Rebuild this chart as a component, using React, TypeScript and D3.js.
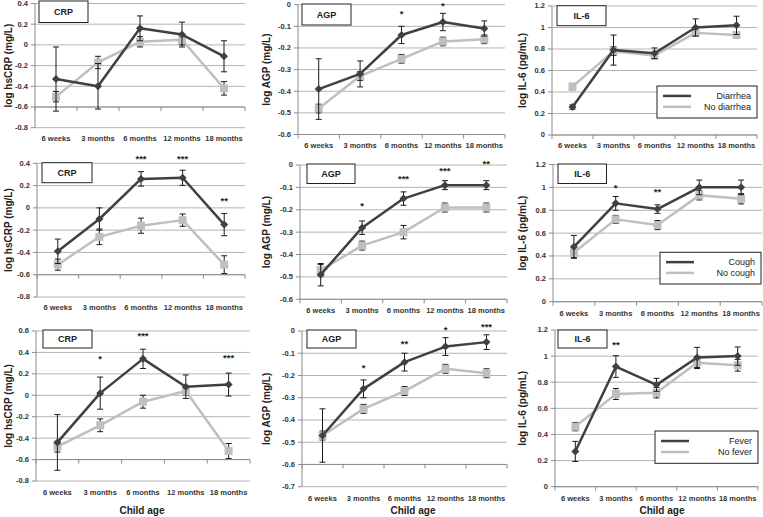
import React from "react";
import * as d3 from "d3";

const categories = ["6 weeks", "3 months", "6 months", "12 months", "18 months"];
const measureTitles = ["CRP", "AGP", "IL-6"];
const yAxisTitles = ["log hsCRP (mg/L)", "log AGP (mg/L)", "log IL-6 (pg/mL)"];
const conditionNames = ["Diarrhea", "Cough", "Fever"];
const noConditionNames = ["No diarrhea", "No cough", "No fever"];
const xAxisTitle = "Child age";

// y tick values
const crpTicksA = [-0.8, -0.6, -0.4, -0.2, 0, 0.2, 0.4];
const crpTicksB = [-0.8, -0.6, -0.4, -0.2, 0, 0.2, 0.4, 0.6];
const agpTicksA = [-0.6, -0.5, -0.4, -0.3, -0.2, -0.1, 0];
const agpTicksB = [-0.7, -0.6, -0.5, -0.4, -0.3, -0.2, -0.1, 0];
const il6Ticks = [0, 0.2, 0.4, 0.6, 0.8, 1, 1.2];

// Diarrhea row
const crpDiarrhea = [-0.33, -0.40, 0.16, 0.10, -0.11];
const crpDiarrheaErr = [0.31, 0.22, 0.12, 0.12, 0.15];
const crpNoDiarrhea = [-0.50, -0.17, 0.03, 0.05, -0.42];
const crpNoDiarrheaErr = [0.05, 0.06, 0.05, 0.05, 0.065];
const agpDiarrhea = [-0.39, -0.32, -0.14, -0.08, -0.11];
const agpDiarrheaErr = [0.14, 0.06, 0.04, 0.04, 0.035];
const agpNoDiarrhea = [-0.48, -0.33, -0.25, -0.17, -0.16];
const agpNoDiarrheaErr = [0.02, 0.02, 0.02, 0.02, 0.02];
const il6Diarrhea = [0.26, 0.79, 0.76, 1.0, 1.02];
const il6DiarrheaErr = [0.02, 0.14, 0.05, 0.08, 0.085];
const il6NoDiarrhea = [0.45, 0.78, 0.74, 0.95, 0.93];
const il6NoDiarrheaErr = [0.03, 0.04, 0.03, 0.03, 0.03];

// Cough row
const crpCough = [-0.39, -0.10, 0.26, 0.27, -0.15];
const crpCoughErr = [0.11, 0.10, 0.065, 0.068, 0.10];
const crpNoCough = [-0.51, -0.26, -0.16, -0.11, -0.51];
const crpNoCoughErr = [0.05, 0.07, 0.068, 0.055, 0.08];
const agpCough = [-0.49, -0.28, -0.15, -0.09, -0.09];
const agpCoughErr = [0.05, 0.03, 0.03, 0.02, 0.02];
const agpNoCough = [-0.47, -0.36, -0.30, -0.19, -0.19];
const agpNoCoughErr = [0.025, 0.02, 0.03, 0.02, 0.02];
const il6Cough = [0.48, 0.86, 0.81, 1.0, 1.0];
const il6CoughErr = [0.10, 0.06, 0.037, 0.064, 0.064];
const il6NoCough = [0.43, 0.72, 0.67, 0.93, 0.90];
const il6NoCoughErr = [0.045, 0.035, 0.04, 0.04, 0.045];

// Fever row
const crpFever = [-0.44, 0.02, 0.34, 0.08, 0.10];
const crpFeverErr = [0.26, 0.15, 0.09, 0.11, 0.107];
const crpNoFever = [-0.48, -0.28, -0.06, 0.04, -0.52];
const crpNoFeverErr = [0.05, 0.06, 0.06, 0.035, 0.07];
const agpFever = [-0.47, -0.26, -0.14, -0.07, -0.05];
const agpFeverErr = [0.12, 0.04, 0.04, 0.04, 0.033];
const agpNoFever = [-0.47, -0.35, -0.27, -0.17, -0.19];
const agpNoFeverErr = [0.02, 0.02, 0.02, 0.02, 0.02];
const il6Fever = [0.27, 0.92, 0.78, 0.99, 1.0];
const il6FeverErr = [0.077, 0.083, 0.05, 0.077, 0.07];
const il6NoFever = [0.46, 0.71, 0.72, 0.95, 0.93];
const il6NoFeverErr = [0.032, 0.042, 0.04, 0.045, 0.045];

// significance stars: [category index, label, value level]
const noStars: [number, string, number][] = [];
const agpDiarrheaStars: [number, string, number][] = [[2, "*", -0.04], [3, "*", -0.002]];
const crpCoughStars: [number, string, number][] = [[2, "***", 0.45], [3, "***", 0.45], [4, "**", 0.07]];
const agpCoughStars: [number, string, number][] = [[1, "*", -0.18], [2, "***", -0.06], [3, "***", -0.022], [4, "**", 0.009]];
const il6CoughStars: [number, string, number][] = [[1, "*", 1.006], [2, "**", 0.969]];
const crpFeverStars: [number, string, number][] = [[1, "*", 0.35], [2, "***", 0.56], [4, "***", 0.36]];
const agpFeverStars: [number, string, number][] = [[1, "*", -0.16], [2, "**", -0.054], [3, "*", 0.009], [4, "***", 0.023]];
const il6FeverStars: [number, string, number][] = [[1, "**", 1.093]];

const panels = [
  { m: 0, c: 0, ticks: crpTicksA, cross: -0.6, yes: crpDiarrhea, yesErr: crpDiarrheaErr, no: crpNoDiarrhea, noErr: crpNoDiarrheaErr, stars: noStars },
  { m: 1, c: 0, ticks: agpTicksA, cross: -0.6, yes: agpDiarrhea, yesErr: agpDiarrheaErr, no: agpNoDiarrhea, noErr: agpNoDiarrheaErr, stars: agpDiarrheaStars },
  { m: 2, c: 0, ticks: il6Ticks, cross: 0, yes: il6Diarrhea, yesErr: il6DiarrheaErr, no: il6NoDiarrhea, noErr: il6NoDiarrheaErr, stars: noStars },
  { m: 0, c: 1, ticks: crpTicksA, cross: -0.6, yes: crpCough, yesErr: crpCoughErr, no: crpNoCough, noErr: crpNoCoughErr, stars: crpCoughStars },
  { m: 1, c: 1, ticks: agpTicksA, cross: -0.6, yes: agpCough, yesErr: agpCoughErr, no: agpNoCough, noErr: agpNoCoughErr, stars: agpCoughStars },
  { m: 2, c: 1, ticks: il6Ticks, cross: 0, yes: il6Cough, yesErr: il6CoughErr, no: il6NoCough, noErr: il6NoCoughErr, stars: il6CoughStars },
  { m: 0, c: 2, ticks: crpTicksB, cross: -0.6, yes: crpFever, yesErr: crpFeverErr, no: crpNoFever, noErr: crpNoFeverErr, stars: crpFeverStars },
  { m: 1, c: 2, ticks: agpTicksB, cross: -0.6, yes: agpFever, yesErr: agpFeverErr, no: agpNoFever, noErr: agpNoFeverErr, stars: agpFeverStars },
  { m: 2, c: 2, ticks: il6Ticks, cross: 0, yes: il6Fever, yesErr: il6FeverErr, no: il6NoFever, noErr: il6NoFeverErr, stars: il6FeverStars },
];

// layout (pixel geometry)
type Box = [number, number, number, number];
const layout: { x0: number; x1: number; yTop: number; yBot: number; labelY: number; titleX: number; box: Box; legend: Box | null; childX: number | null }[] = [
  { x0: 35, x1: 245, yTop: 3.5, yBot: 127.7, labelY: 139, titleX: 8, box: [39, 1, 49, 21.5], legend: null, childX: null },
  { x0: 298, x1: 505, yTop: 4.7, yBot: 134.5, labelY: 146, titleX: 266, box: [302, 4, 49, 21], legend: null, childX: null },
  { x0: 552, x1: 757, yTop: 6, yBot: 135, labelY: 146, titleX: 522, box: [557, 5.7, 49, 20], legend: [657, 86, 100, 32], childX: null },
  { x0: 37, x1: 245, yTop: 163.3, yBot: 297, labelY: 308, titleX: 8, box: [42, 162.7, 50, 20], legend: null, childX: null },
  { x0: 300, x1: 507, yTop: 165, yBot: 299.3, labelY: 311, titleX: 266, box: [307, 164, 48, 19.5], legend: null, childX: null },
  { x0: 553, x1: 762, yTop: 164.5, yBot: 301.7, labelY: 314, titleX: 522, box: [558, 164, 48.5, 19.5], legend: [660, 252.3, 101, 31.7], childX: null },
  { x0: 36, x1: 250, yTop: 331, yBot: 481, labelY: 493, titleX: 8, box: [43, 330, 49, 18], legend: null, childX: 142 },
  { x0: 302, x1: 507, yTop: 331, yBot: 486.7, labelY: 499, titleX: 266, box: [307, 330, 49, 18], legend: null, childX: 413 },
  { x0: 555, x1: 758, yTop: 330, yBot: 486.7, labelY: 499, titleX: 522, box: [558, 330, 49, 18], legend: [655, 431, 103, 32.3], childX: 662 },
];

const DARK = "#404040";
const LIGHT = "#bfbfbf";
const GRID = "#b4b4b4";
const AXIS = "#8c8c8c";
const FONT = "'Liberation Sans', Arial, sans-serif";

const fmt = (v: number) => String(+v.toFixed(1));

function Panel({ p, l }: { p: (typeof panels)[number]; l: (typeof layout)[number] }) {
  const [lo, hi] = d3.extent(p.ticks) as [number, number];
  const y = d3.scaleLinear().domain([lo, hi]).range([l.yBot, l.yTop]);
  const x = d3.scaleBand().domain(categories).range([l.x0, l.x1]);
  const cx = (i: number) => (x(categories[i]) as number) + x.bandwidth() / 2;
  const line = d3
    .line<number>()
    .x((_, i) => cx(i))
    .y((d) => y(d));
  const crossY = y(p.cross);
  const boundaries = categories.map((c) => x(c) as number).concat([l.x1]);
  const cap = 3;

  const series = [
    { vals: p.no, errs: p.noErr, color: LIGHT, marker: "square" },
    { vals: p.yes, errs: p.yesErr, color: DARK, marker: "diamond" },
  ];

  return (
    <g>
      {p.ticks.map((t) => (
        <g key={t}>
          <line x1={l.x0} x2={l.x1} y1={y(t)} y2={y(t)} stroke={GRID} strokeWidth={1} />
          <line x1={l.x0 - 4} x2={l.x0} y1={y(t)} y2={y(t)} stroke={AXIS} strokeWidth={1} />
          <text x={l.x0 - 7} y={y(t)} dy="0.33em" textAnchor="end" fontSize={7.5} fontWeight="bold" fill="#333" fontFamily={FONT}>
            {fmt(t)}
          </text>
        </g>
      ))}
      <line x1={l.x0} x2={l.x0} y1={l.yTop} y2={l.yBot} stroke={AXIS} strokeWidth={1} />
      <line x1={l.x0} x2={l.x1} y1={crossY} y2={crossY} stroke={AXIS} strokeWidth={1} />
      {boundaries.map((bx, i) => (
        <line key={i} x1={bx} x2={bx} y1={crossY} y2={crossY + 4} stroke={AXIS} strokeWidth={1} />
      ))}
      {categories.map((c, i) => (
        <text key={c} x={cx(i)} y={l.labelY} dy="0.33em" textAnchor="middle" fontSize={7.5} fontWeight="bold" fill="#333" fontFamily={FONT}>
          {c}
        </text>
      ))}
      <text
        transform={`translate(${l.titleX},${(l.yTop + l.yBot) / 2}) rotate(-90)`}
        dy="0.35em"
        textAnchor="middle"
        fontSize={10}
        fontWeight="bold"
        fill="#222"
        fontFamily={FONT}
      >
        {yAxisTitles[p.m]}
      </text>
      {series.map((s, si) => (
        <g key={si}>
          <path d={line(s.vals) as string} fill="none" stroke={s.color} strokeWidth={2.5} strokeLinejoin="round" />
          {s.vals.map((v, i) => {
            const e = s.errs[i];
            const yh = y(v + e);
            const yl = y(v - e);
            const xx = cx(i);
            return (
              <g key={i} stroke="#1a1a1a" strokeWidth={1}>
                <line x1={xx} x2={xx} y1={yh} y2={yl} />
                <line x1={xx - cap} x2={xx + cap} y1={yh} y2={yh} />
                <line x1={xx - cap} x2={xx + cap} y1={yl} y2={yl} />
              </g>
            );
          })}
          {s.vals.map((v, i) => {
            const xx = cx(i);
            const yy = y(v);
            return s.marker === "square" ? (
              <rect key={i} x={xx - 4} y={yy - 4} width={8} height={8} fill={s.color} />
            ) : (
              <path key={i} d={`M${xx},${yy - 4}L${xx + 4},${yy}L${xx},${yy + 4}L${xx - 4},${yy}Z`} fill={s.color} />
            );
          })}
        </g>
      ))}
      {p.stars.map(([ci, txt, lv], i) => (
        <text key={i} x={cx(ci)} y={y(lv) + 4} textAnchor="middle" fontSize={9.5} fontWeight="bold" fill="#222" fontFamily={FONT}>
          {txt}
        </text>
      ))}
      <rect x={l.box[0]} y={l.box[1]} width={l.box[2]} height={l.box[3]} fill="#fff" stroke="#222" strokeWidth={1} />
      <text
        x={l.box[0] + l.box[2] / 2}
        y={l.box[1] + l.box[3] / 2}
        dy="0.35em"
        textAnchor="middle"
        fontSize={9}
        fontWeight="bold"
        fill="#222"
        fontFamily={FONT}
      >
        {measureTitles[p.m]}
      </text>
      {l.legend && (
        <g>
          <rect x={l.legend[0]} y={l.legend[1]} width={l.legend[2]} height={l.legend[3]} fill="#fff" stroke="#222" strokeWidth={1} />
          {[
            { name: conditionNames[p.c], color: DARK },
            { name: noConditionNames[p.c], color: LIGHT },
          ].map((it, i) => {
            const ly = l.legend![1] + l.legend![3] * (i === 0 ? 0.31 : 0.65);
            return (
              <g key={i}>
                <line x1={l.legend![0] + 6} x2={l.legend![0] + 34} y1={ly} y2={ly} stroke={it.color} strokeWidth={2.5} />
                <text x={l.legend![0] + l.legend![2] - 6} y={ly} dy="0.35em" textAnchor="end" fontSize={9} fill="#222" fontFamily={FONT}>
                  {it.name}
                </text>
              </g>
            );
          })}
        </g>
      )}
      {l.childX !== null && (
        <text x={l.childX} y={510.5} dy="0.35em" textAnchor="middle" fontSize={10} fontWeight="bold" fill="#222" fontFamily={FONT}>
          {xAxisTitle}
        </text>
      )}
    </g>
  );
}

export default function App() {
  return (
    <svg
      width={763}
      height={517}
      style={{ position: "absolute", left: 0, top: 0, background: "#fff" }}
    >
      <rect x={0} y={0} width={763} height={517} fill="#fff" />
      {panels.map((p, i) => (
        <Panel key={i} p={p} l={layout[i]} />
      ))}
    </svg>
  );
}
